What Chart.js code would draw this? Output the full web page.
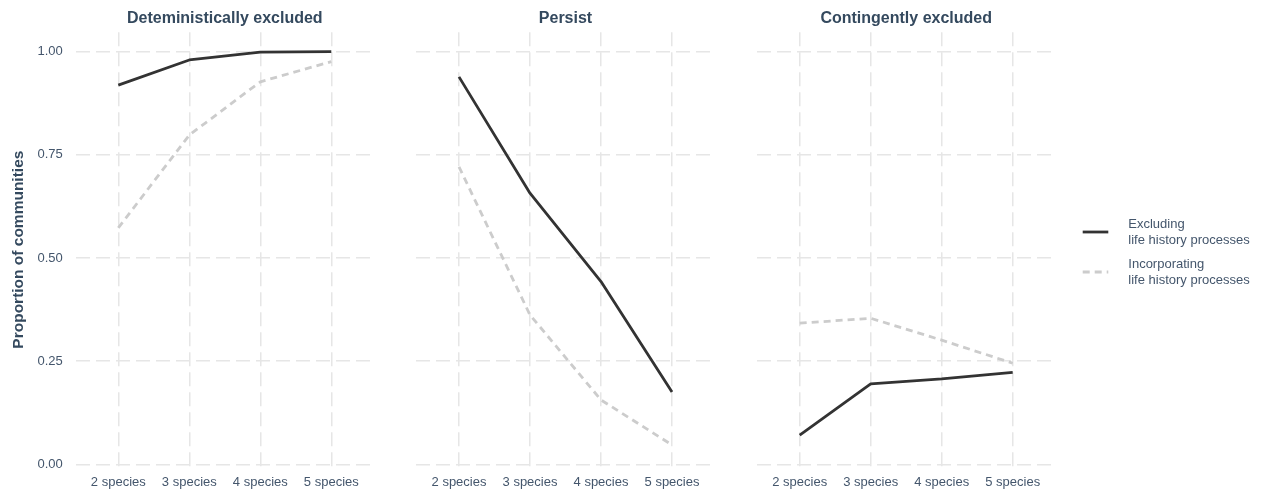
<!DOCTYPE html>
<html>
<head>
<meta charset="utf-8">
<script src="https://cdn.jsdelivr.net/npm/chart.js@4/dist/chart.umd.min.js"></script>
<style>
  html, body { margin: 0; padding: 0; background: #ffffff; }
  #wrap { position: relative; width: 1261px; height: 495px; overflow: hidden; background: #ffffff; }
  #wrap canvas { position: absolute; top: 0; }
</style>
</head>
<body>
<div id="wrap">
  <canvas id="panel1" width="380" height="495" style="left:0px"></canvas>
  <canvas id="panel2" width="340" height="495" style="left:380px"></canvas>
  <canvas id="panel3" width="541" height="495" style="left:720px"></canvas>
</div>
<script>
// Community size categories along the x axis
const categories = ['2 species', '3 species', '4 species', '5 species'];

// Facet titles
const facetTitles = ['Deteministically excluded', 'Persist', 'Contingently excluded'];

// Series labels
const seriesLabels = ['Excluding\nlife history processes', 'Incorporating\nlife history processes'];

// Y axis tick values
const yTickValues = [0, 0.25, 0.5, 0.75, 1];

// Proportion of communities, per facet and series
const deterministicExcluding    = [0.919, 0.980, 0.999, 1.000];
const deterministicIncorporating = [0.573, 0.798, 0.927, 0.976];
const persistExcluding          = [0.939, 0.657, 0.443, 0.175];
const persistIncorporating      = [0.721, 0.362, 0.156, 0.047];
const contingentExcluding       = [0.071, 0.195, 0.207, 0.223];
const contingentIncorporating   = [0.342, 0.354, 0.301, 0.245];

const FONT = '"Liberation Sans", Arial, Helvetica, sans-serif';
const TITLE_COLOR = '#34495e';
const TEXT_COLOR = '#44566c';
const GRID_COLOR = '#e6e6e6';

const excludingStyle = { borderColor: '#333333', borderWidth: 2.8, borderDash: [] };
const incorporatingStyle = { borderColor: '#cccccc', borderWidth: 2.8, borderDash: [7, 5] };

function toPoints(values) {
  return values.map((v, i) => ({ x: i, y: v }));
}

// Side legend drawn from the datasets' own line styles
const sideLegend = {
  id: 'sideLegend',
  afterDraw(chart, args, opts) {
    if (!opts || !opts.show) return;
    const { ctx, chartArea } = chart;
    const x0 = chartArea.right + opts.offsetX;
    const n = chart.data.datasets.length;
    chart.data.datasets.forEach((ds, i) => {
      const cy = opts.centerY + (i - (n - 1) / 2) * opts.spacing;
      ctx.save();
      ctx.strokeStyle = ds.borderColor;
      ctx.lineWidth = ds.borderWidth;
      ctx.setLineDash(ds.borderDash || []);
      ctx.beginPath();
      ctx.moveTo(x0, cy);
      ctx.lineTo(x0 + opts.keyWidth, cy);
      ctx.stroke();
      ctx.setLineDash([]);
      ctx.fillStyle = TEXT_COLOR;
      ctx.font = '13px ' + FONT;
      ctx.textBaseline = 'middle';
      ctx.textAlign = 'left';
      const lines = ds.label.split('\n');
      lines.forEach((ln, j) => {
        ctx.fillText(ln, x0 + opts.textGap, cy + (j - (lines.length - 1) / 2) * opts.lineHeight);
      });
      ctx.restore();
    });
  }
};

function makePanel(canvasId, title, excl, incl, cfg) {
  const ctx = document.getElementById(canvasId).getContext('2d');
  return new Chart(ctx, {
    type: 'line',
    data: {
      datasets: [
        Object.assign({ label: seriesLabels[0], data: toPoints(excl) }, excludingStyle),
        Object.assign({ label: seriesLabels[1], data: toPoints(incl) }, incorporatingStyle)
      ].map(ds => Object.assign(ds, {
        pointRadius: 0,
        pointHoverRadius: 0,
        fill: false,
        tension: 0,
        borderJoinStyle: 'round',
        borderCapStyle: 'butt'
      }))
    },
    options: {
      responsive: false,
      animation: false,
      devicePixelRatio: 1,
      events: [],
      layout: { padding: { left: 0, right: cfg.padRight, top: 0, bottom: 0 } },
      plugins: {
        legend: { display: false },
        tooltip: { enabled: false },
        title: {
          display: true,
          text: title,
          fullSize: false,
          color: TITLE_COLOR,
          font: { family: FONT, size: 16, weight: 'bold', lineHeight: 1.2 },
          padding: { top: 8.7, bottom: 4.4 }
        },
        sideLegend: cfg.legend || { show: false }
      },
      scales: {
        x: {
          type: 'linear',
          min: -0.6,
          max: categories.length - 1 + 0.6,
          afterBuildTicks: s => { s.ticks = categories.map((c, i) => ({ value: i })); },
          afterFit: s => { s.height = 28; },
          ticks: {
            autoSkip: false,
            maxRotation: 0,
            padding: 8,
            color: TEXT_COLOR,
            font: { family: FONT, size: 13 },
            callback: v => categories[v]
          },
          grid: { color: GRID_COLOR, lineWidth: 1.5, drawTicks: false },
          border: { display: false, dash: [14, 6] }
        },
        y: {
          type: 'linear',
          min: -0.0065,
          max: 1.047,
          afterBuildTicks: s => { s.ticks = yTickValues.map(v => ({ value: v })); },
          afterFit: s => { s.width = cfg.yWidth; },
          ticks: {
            display: cfg.showY,
            padding: 13,
            color: TEXT_COLOR,
            font: { family: FONT, size: 13 },
            callback: v => v.toFixed(2)
          },
          title: {
            display: cfg.showY,
            text: 'Proportion of communities',
            color: TITLE_COLOR,
            font: { family: FONT, size: 15.5, weight: 'bold', lineHeight: 1.2 },
            padding: { top: 9.5, bottom: 0 }
          },
          grid: { color: GRID_COLOR, lineWidth: 1.5, drawTicks: false },
          border: { display: false, dash: [14, 6] }
        }
      }
    },
    plugins: [sideLegend]
  });
}

makePanel('panel1', facetTitles[0], deterministicExcluding, deterministicIncorporating,
  { yWidth: 75.7, padRight: 6.1, showY: true });
makePanel('panel2', facetTitles[1], persistExcluding, persistIncorporating,
  { yWidth: 36.4, padRight: 5.4, showY: false });
makePanel('panel3', facetTitles[2], contingentExcluding, contingentIncorporating,
  { yWidth: 37.1, padRight: 205.7, showY: false,
    legend: { show: true, offsetX: 27.4, keyWidth: 25.6, textGap: 45.6, centerY: 252, spacing: 40, lineHeight: 16 } });
</script>
</body>
</html>
